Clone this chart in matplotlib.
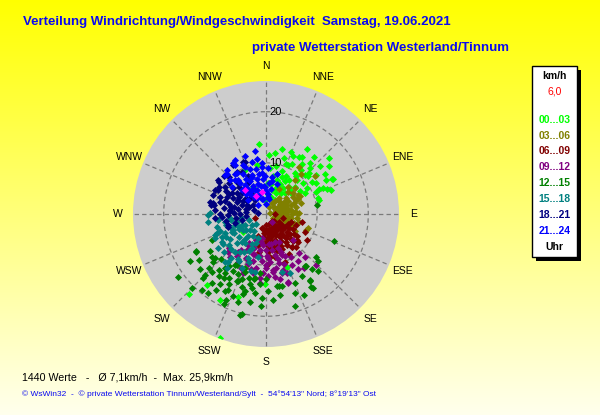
import numpy as np
import matplotlib
matplotlib.use("Agg")
import matplotlib.pyplot as plt
from matplotlib.patches import Rectangle
import matplotlib.transforms as mtransforms

plt.rcParams['font.family'] = ['Liberation Sans', 'DejaVu Sans']

# ---------------- data: wind direction (deg, from N clockwise) and speed (km/h) ----------------
dir_00_03 = [354.5, 8.4, 25.2, 31.9, 40.6, 48.5, 48.4, 62.2, 65.9, 73.3, 24.5, 35.5, 45, 54.7, 22.8, 13.4,
             32.7, 356, 4.3, 349, 46.7, 62, 42.5, 30.2, 62.5, 75.3, 21.5, 46.8, 66, 60.5,
             223.8, 219.9, 208.4, 198.4, 181, 158.9, 231, 200.5, 334.5, 335,
             15, 20, 28, 35, 38, 42, 50, 55, 58, 28, 18, 12, 25, 33, 40, 52, 44, 36, 68, 56, 10, 5, 20,
             5, 15, 25, 35, 45, 10, 18, 30, 38, 48, 22, 14, 40, 32, 53, 70, 58, 65, 3, 50]
spd_00_03 = [13.7, 12.0, 12.5, 13.2, 13.2, 16.4, 14.1, 14.5, 12.3, 10.7, 10.5, 9.8, 10.8, 10.9, 7.9, 4.8,
             3.3, 2.7, 6.0, 9.7, 7.8, 8.6, 5.5, 12.9, 14.7, 10.8, 10.6, 11.6, 10.7, 13.5,
             21.8, 18.0, 19.1, 17.1, 13.7, 11.2, 5.7, 25.9, 9.5, 5.9,
             8, 9, 8.5, 8, 11, 9, 9.5, 8, 11.5, 11, 11.5, 9.5, 6.5, 6, 7, 12.5, 12.5, 12, 12.8, 14, 7.5, 9, 5.5,
             4, 3.5, 4.5, 5, 6.5, 6, 7, 7.5, 9.5, 11, 13, 13, 14.5, 15, 15.5, 13.5, 9.5, 11.5, 11.5, 6.5]

dir_03_06 = [41.3, 40.5, 52.2, 65.5, 108.7, 48.5, 38.5, 59, 88.8, 111.8, 108.2, 27.4, 35.2, 103,
             50, 60, 70, 80, 90, 100, 110, 120, 45, 55, 65, 75, 85, 95, 105, 115,
             50, 60, 70, 80, 90, 100, 57, 66, 76, 88, 98, 62, 72, 30, 40, 20, 80, 130, 85, 75, 95,
             55, 65, 75, 95, 105, 60, 70, 80, 90, 100, 110, 52, 45, 115, 120, 85, 68, 35, 125]
spd_03_06 = [10.5, 8.7, 12.0, 6.9, 8.7, 7.6, 6.8, 7.2, 6.5, 8.4, 5.8, 5.6, 11.3, 6.7,
             2, 2, 2.2, 1.8, 2, 2.1, 2, 1.5, 3.5, 3.4, 3.6, 3.5, 3.5, 3.4, 3.6, 3,
             5, 5, 5.1, 4.9, 5, 5, 6.2, 6.5, 6, 6, 6.2, 7.5, 7.2, 2.5, 4, 1.5, 0.8, 2.5, 4.2, 2.8, 2.7,
             4.2, 4.3, 4.2, 4.2, 4.4, 3, 3, 3, 3, 3, 4, 6.8, 6, 5.5, 6.5, 5.6, 5.8, 3, 3.5]

dir_06_09 = [102, 122.6, 130.6, 141.8, 158.3, 179, 147.8, 104, 106.7, 133.3, 158.4, 196.7, 194, 176.5, 248.6, 90,
             120, 130, 140, 150, 160, 170, 180, 190, 115, 125, 135, 145, 155, 165, 175, 185,
             120, 130, 140, 150, 160, 170, 180, 125, 135, 145, 155, 165, 138, 150, 168, 200, 110, 190, 165, 140,
             125, 135, 145, 155, 165, 175, 185, 120, 130, 140, 150, 160, 170, 180, 190,
             125, 135, 145, 155, 165, 175, 130, 142, 160, 175, 115, 150, 130, 180]
spd_06_09 = [7.1, 9.4, 8.3, 8.1, 10.0, 9.9, 3.3, 3.5, 5.2, 6.0, 6.5, 2.9, 6.2, 7.4, 2.3, 1.8,
             3, 3.2, 3, 3, 3.1, 3, 3.2, 3, 4.7, 4.6, 4.5, 4.7, 4.6, 4.5, 4.7, 4.6,
             6, 6.2, 6.1, 6, 6, 6.2, 5.9, 7.4, 7.5, 7.3, 7.6, 7.4, 8.8, 9, 8.6, 4.5, 6.3, 7.5, 2, 1.8,
             3.8, 3.9, 3.8, 3.9, 3.8, 3.9, 3.8, 5.3, 5.4, 5.3, 5.3, 5.4, 5.3, 5.4, 5.5,
             6.8, 6.8, 6.7, 6.8, 6.8, 6.7, 8, 8.2, 8, 8.5, 8.5, 2.2, 2, 2.2]

dir_09_12 = [133.6, 137.6, 135.2, 162.2, 171.8, 185.3, 201, 227.7, 216.3, 195, 177, 159, 162, 190, 209.7, 153.3,
             143, 160.8, 145.9, 161.8, 172.6,
             160, 170, 180, 190, 200, 210, 155, 165, 175, 185, 195, 205, 215, 160, 170, 180, 190, 200, 210,
             165, 178, 192, 150, 220, 175, 200, 185,
             158, 168, 178, 188, 198, 208, 163, 173, 183, 195, 205, 215, 225, 168, 185, 150, 140, 145,
             155, 190, 170, 200, 180, 165]
spd_09_12 = [7.4, 11.3, 14.0, 14.2, 12.4, 12.6, 12.4, 9.9, 9.1, 8.3, 8.7, 8.6, 5.7, 4.8, 7.0, 11.2,
             1.9, 12.3, 11.2, 13.9, 11.0,
             7, 7.2, 7, 7.1, 7, 6.5, 9, 9.2, 9.5, 9.3, 9.6, 9.4, 8.5, 10.5, 10.7, 10.6, 10.8, 10.5, 10.9,
             12, 12.2, 11.8, 9.8, 11, 5.8, 5.5, 6,
             8, 8.2, 8.3, 8.2, 8.3, 8, 11.4, 11.5, 11.6, 11.2, 11.7, 10, 10.5, 13, 13.5, 12.5, 10, 13,
             6, 5.5, 6, 9.8, 9.9, 10]

dir_12_15 = [234.4, 241.4, 235.6, 226.7, 224.7, 216.5, 213.6, 206.4, 201.6, 195.7, 190.9, 182.5, 193.5, 178.3,
             171.6, 167.8, 157.3, 147, 143.5, 130.1, 137.8, 148.2, 217.3, 217, 211.3, 201, 229, 244.4, 189.7,
             209.6, 202.3, 111.6, 162.6, 146.3, 147.5, 242, 236, 132.4, 142.8, 80.1, 169.5, 194.4,
             195, 200, 205, 210, 215, 220, 198, 208, 213, 225, 185, 190, 230, 205, 220, 186, 180, 175,
             193, 203, 213, 223, 228, 218, 208, 198, 200, 210, 190, 195, 215, 225, 232, 238, 205, 188,
             183, 170, 160, 150, 140, 155, 225]
spd_12_15 = [21.1, 15.6, 15.9, 15.4, 17.6, 19.2, 16.4, 16.5, 17.3, 16.3, 14.7, 16.4, 20.2, 15.1,
             14.3, 14.5, 14.6, 15.7, 12.7, 12.9, 15.1, 16.8, 15.3, 13.2, 11.6, 11.3, 13.1, 11.7, 12.7,
             14.5, 14.2, 14.3, 18.9, 15.4, 17.1, 15.6, 13.1, 13.7, 12.8, 10.2, 14.3, 20.3,
             13, 13.5, 13, 12.8, 14, 14.3, 15, 15.5, 17.8, 12.5, 13.8, 17.5, 16.8, 18.5, 19.5, 11.5, 12.8, 16.8,
             14, 14.3, 15, 15.5, 14, 17, 17, 18, 12, 11.5, 13, 15.5, 12.5, 17, 13.5, 17.5, 19.5, 15.5,
             18, 16, 16.5, 14, 14, 17.5, 20.5]

dir_15_18 = [262.4, 255.6, 242.9, 234.3, 218.3, 204.1, 190.8, 164.8, 242.7, 221.3, 202.6, 245.6, 219.4, 201.8,
             259.4, 263, 242.4, 243.9, 262.8, 269, 247.6, 318, 271, 248.6, 238, 215.9, 220.7, 158,
             210, 220, 230, 240, 250, 205, 215, 225, 235, 245, 255, 210, 230, 212, 228, 198, 190, 232, 252, 225,
             215, 225, 235, 245, 255, 262, 200, 220, 230, 240, 250, 260, 205, 215, 225, 235, 245, 250,
             210, 200, 195, 240, 218]
spd_15_18 = [11.4, 9.9, 9.7, 11.5, 11.9, 11.6, 11.5, 11.7, 7.5, 7.2, 7.3, 5.2, 9.5, 9.3,
             8.1, 7.1, 4.6, 7.1, 9.4, 11.3, 10.8, 8.1, 10.9, 10.3, 10.2, 13.1, 12.3, 12.5,
             5, 5.5, 5, 6, 6.5, 6.5, 7, 8, 8.5, 8.8, 8, 8.5, 9.5, 10.3, 11, 5, 8.5, 3.5, 3.5, 2.8,
             4, 4.5, 5.5, 5.8, 5.8, 5, 6, 6.5, 7, 7.3, 7.5, 7, 8, 9, 9.8, 10.3, 11, 9.5,
             10.5, 10, 11.5, 9, 11]

dir_18_21 = [282.4, 279.7, 304.1, 303.7, 326.3, 338.1, 253.7, 266.5, 296.8, 292.4, 282, 301.1, 318.8, 321.8,
             275, 256, 295.2, 290.6, 336.5, 296.7, 281.5, 279, 293.8, 276, 265.2, 251.4, 253,
             270, 280, 290, 300, 310, 320, 275, 285, 295, 305, 315, 270, 285, 300, 310, 320, 330, 330, 262, 312, 290, 305,
             265, 275, 285, 295, 305, 315, 325, 272, 282, 292, 302, 312, 322, 278, 288, 298, 308, 318,
             325, 275, 300, 290, 305, 268, 260, 315, 335]
spd_18_21 = [11.2, 10.4, 11.2, 9.6, 11.5, 11.0, 7.7, 8.7, 6.1, 3.7, 6.9, 7.8, 6.2, 3.5,
             1.5, 4.9, 11.0, 9.6, 11.1, 10.4, 10.5, 10.9, 8.4, 7.1, 10, 7.8, 6.3,
             5, 5.5, 5, 5.2, 5, 5.3, 7, 7.5, 7.2, 7, 7.5, 9, 9.3, 9, 9.5, 8.5, 7, 9.5, 6, 11, 2.5, 3,
             4, 4, 4, 4, 4.5, 4.5, 5, 6.2, 6.3, 6.1, 6.2, 6.2, 6.5, 8.2, 8.4, 8.2, 8.3, 8.5,
             10, 10, 10.5, 11, 11.5, 7.5, 8, 10.2, 8.2]

dir_21_24 = [350.5, 327.7, 318.2, 313.6, 336.1, 8.7, 19.2, 354, 339, 320.8, 314.6, 335.4, 358, 7.6, 308.3,
             319.5, 308.5, 354.8, 327.2, 316, 313.4,
             320, 330, 340, 350, 0, 325, 335, 345, 355, 5, 330, 340, 348, 322, 12, 15, 345, 330, 0, 318,
             315, 325, 335, 345, 355, 5, 10, 320, 330, 340, 350, 358, 325, 335, 345, 318, 355, 340, 350,
             330, 340, 350, 325, 3, 10]
spd_21_24 = [11.0, 11.3, 11.5, 11.0, 10.1, 7.4, 6.3, 8.0, 7.8, 8.6, 6.7, 5.2, 5.3, 3.4, 4.4,
             2.3, 8.6, 9.3, 11.8, 11.0, 9.7,
             5, 5.5, 5, 5.5, 4.5, 7, 7.2, 7, 6.8, 6, 9, 9.3, 9, 10, 5, 8, 3, 3.5, 2, 6.5,
             5.5, 6, 6, 6, 5.5, 4, 3, 8, 8, 8.2, 8, 7.5, 9.8, 10.5, 10.5, 9, 10, 12, 12.5,
             12.2, 4, 3, 4, 9, 6.5]

dir_extra = [318.8, 349, 330]
spd_extra = [6.2, 4.4, 4.0]

groups = ['00...03', '03...06', '06...09', '09...12', '12...15', '15...18', '18...21', '21...24']
colors = ['#00FF00', '#808000', '#800000', '#800080', '#008000', '#008080', '#000080', '#0000FF']
dirs = [dir_00_03, dir_03_06, dir_06_09, dir_09_12, dir_12_15, dir_15_18, dir_18_21, dir_21_24]
spds = [spd_00_03, spd_03_06, spd_06_09, spd_09_12, spd_12_15, spd_15_18, spd_18_21, spd_21_24]

compass = ['N', 'NNE', 'NE', 'ENE', 'E', 'ESE', 'SE', 'SSE',
           'S', 'SSW', 'SW', 'WSW', 'W', 'WNW', 'NW', 'NNW']
rings = [10, 20]
r_max = 26

title1 = 'Verteilung Windrichtung/Windgeschwindigkeit  Samstag, 19.06.2021'
title2 = 'private Wetterstation Westerland/Tinnum'
stats = '1440 Werte   -   Ø 7,1km/h  -  Max. 25,9km/h'
footer = '© WsWin32  -  © private Wetterstation Tinnum/Westerland/Sylt  -  54°54\'13" Nord; 8°19\'13" Ost'
current = '6,0'

# ---------------- figure ----------------
W, H = 600, 415
fig = plt.figure(figsize=(W / 100, H / 100), dpi=100)

bg = fig.add_axes([0, 0, 1, 1])
bg.axis('off')
grad = np.zeros((256, 1, 3))
t = np.linspace(0, 1, 256)
grad[:, 0, 0] = 1.0
grad[:, 0, 1] = 1.0
grad[:, 0, 2] = t * 0.93
bg.imshow(grad, aspect='auto', extent=[0, 1, 0, 1], origin='upper')
bg.set_xlim(0, 1)
bg.set_ylim(0, 1)

cx, cy, R = 266, 214, 133
ax = fig.add_axes([(cx - R) / W, 1 - (cy + R) / H, 2 * R / W, 2 * R / H], projection='polar')
ax.set_facecolor('#CDCDCD')
ax.set_theta_zero_location('N')
ax.set_theta_direction(-1)
ax.set_ylim(0, r_max)
ax.grid(False)
ax.set_xticks([])
ax.set_yticks([])
ax.spines['polar'].set_visible(False)

dash = (0, (3.5, 2.5))
gcol = '#7A7A7A'
th = np.linspace(0, 2 * np.pi, 400)
for rr in rings:
    ax.plot(th, np.full_like(th, rr), color=gcol, lw=0.9, ls=dash, zorder=1)
for i, lab in enumerate(compass):
    a = np.deg2rad(i * 22.5)
    r0 = 0 if i % 4 == 0 else rings[0]
    ax.plot([a, a], [r0, r_max], color=gcol, lw=0.9, ls=dash, zorder=1)
    ax.text(a, 28.9, lab, ha='center', va='center', fontsize=7.5, clip_on=False)

off = mtransforms.offset_copy(ax.transData, fig=fig, x=3, y=0, units='dots')
for rr in rings:
    ax.text(0, rr, str(rr), transform=off, ha='left', va='center', fontsize=8, zorder=5)

for d, s, c in zip(dirs, spds, colors):
    ax.scatter(np.deg2rad(d), s, marker='D', s=13, color=c, linewidths=0, zorder=3)
ax.scatter(np.deg2rad(dir_extra), spd_extra, marker='D', s=13, color='#FF00FF', linewidths=0, zorder=3)

# ---------------- texts ----------------
tcol = '#0A0AF0'
fig.text(23 / W, 1 - 22 / H, title1, ha='left', va='center', fontsize=9.5, fontweight='bold', color=tcol)
fig.text(252 / W, 1 - 48 / H, title2, ha='left', va='center', fontsize=9.5, fontweight='bold', color=tcol)
fig.text(22 / W, 1 - 377 / H, stats, ha='left', va='center', fontsize=7.7, color='black')
fig.text(22 / W, 1 - 394 / H, footer, ha='left', va='center', fontsize=6.05, color=tcol)

# legend box
bx0, bx1, by0, by1 = 532, 577, 66, 257
sh = 4
fig.patches.append(Rectangle(((bx0 + sh) / W, 1 - (by1 + sh) / H), (bx1 - bx0) / W, (by1 - by0) / H,
                             transform=fig.transFigure, facecolor='black', edgecolor='none', zorder=1))
fig.patches.append(Rectangle((bx0 / W, 1 - by1 / H), (bx1 - bx0) / W, (by1 - by0) / H,
                             transform=fig.transFigure, facecolor='white', edgecolor='black', lw=1, zorder=2))
lx = 554.5
fig.text(lx / W, 1 - 76 / H, 'km/h', ha='center', va='center', fontsize=7.5, fontweight='bold', color='black', zorder=3)
fig.text(lx / W, 1 - 92 / H, current, ha='center', va='center', fontsize=7.5, color='red', zorder=3)
ys = [120, 136, 151, 167, 183, 199, 215, 231]
for lab, c, yy in zip(groups, colors, ys):
    fig.text(lx / W, 1 - yy / H, lab, ha='center', va='center', fontsize=7.5, fontweight='bold', color=c, zorder=3)
fig.text(lx / W, 1 - 247 / H, 'Uhr', ha='center', va='center', fontsize=7.5, fontweight='bold', color='black', zorder=3)

fig.savefig('out.png', dpi=100)
